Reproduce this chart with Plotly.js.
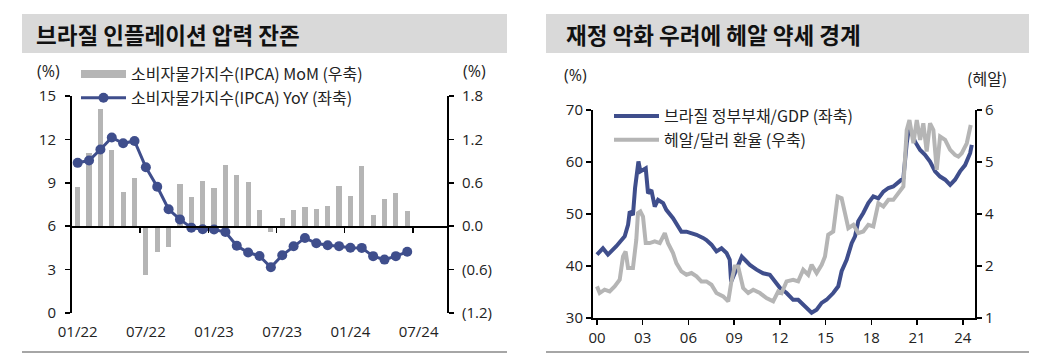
<!DOCTYPE html>
<html>
<head>
<meta charset="utf-8">
<script src="https://cdn.plot.ly/plotly-3.0.1.min.js"></script>
<style>html,body{margin:0;padding:0;background:#fff;}#chart{width:1047px;height:353px;}</style>
</head>
<body>
<div id="chart"></div>
<script>
// ---------- Left chart: Brazil IPCA ----------
const monthAxis = ['01/22','02/22','03/22','04/22','05/22','06/22','07/22','08/22','09/22','10/22','11/22','12/22',
  '01/23','02/23','03/23','04/23','05/23','06/23','07/23','08/23','09/23','10/23','11/23','12/23',
  '01/24','02/24','03/24','04/24','05/24','06/24','07/24','08/24','09/24'];
const ipcaMonths = monthAxis.slice(0, 30);
const ipcaYoY = [10.38,10.54,11.30,12.13,11.73,11.89,10.07,8.73,7.17,6.47,5.90,5.79,
  5.77,5.60,4.65,4.18,3.94,3.16,3.99,4.61,5.19,4.82,4.68,4.62,
  4.51,4.50,3.93,3.69,3.93,4.23];
const ipcaMoM = [0.54,1.01,1.62,1.06,0.47,0.67,-0.68,-0.36,-0.29,0.59,0.41,0.62,
  0.53,0.84,0.71,0.61,0.23,-0.08,0.12,0.23,0.26,0.24,0.28,0.56,
  0.42,0.83,0.16,0.38,0.46,0.21];
const leftTickLabels = ['01/22','07/22','01/23','07/23','01/24','07/24'];
const leftYVals = [0,3,6,9,12,15];
const rightYVals = [-1.2,-0.6,0,0.6,1.2,1.8];
const rightYText = ['(1.2)','(0.6)','0.0','0.6','1.2','1.8'];
const leftBoundaryTicks = [5.5,11.5,17.5,23.5,29.5];

// ---------- Right chart: debt / BRL ----------
const debtYear = [2000.00,2000.39,2000.72,2001.27,2001.82,2002.04,2002.15,2002.36,2002.50,2002.72,2002.85,2003.02,2003.20,2003.35,2003.57,2003.79,2004.01,2004.34,2004.55,2004.99,2005.32,2005.54,2005.87,2006.20,2006.53,2006.96,2007.18,2007.51,2007.84,2008.17,2008.50,2008.71,2008.80,2009.04,2009.50,2009.70,2010.03,2010.47,2010.90,2011.34,2011.67,2012.00,2012.44,2012.87,2013.20,2013.53,2013.86,2014.08,2014.41,2014.74,2015.06,2015.50,2015.83,2016.05,2016.38,2016.71,2016.93,2017.14,2017.47,2017.80,2018.13,2018.46,2018.79,2019.12,2019.44,2019.77,2020.10,2020.32,2020.45,2020.65,2020.87,2021.20,2021.52,2021.85,2022.18,2022.51,2022.84,2023.17,2023.49,2023.82,2024.15,2024.48,2024.59];
const debtGDP = [42.2,43.4,42.2,43.8,45.7,47.9,50.5,49.8,55.0,60.1,58.2,58.5,58.8,54.0,54.6,51.4,52.7,52.1,50.8,49.2,47.6,46.6,46.6,46.3,46.0,45.4,45.0,44.1,42.8,43.4,42.5,41.2,37.0,38.6,41.8,41.2,40.2,39.3,38.6,38.3,37.0,35.8,34.8,33.5,33.5,32.6,31.6,31.0,31.6,32.9,33.5,34.8,36.1,39.0,41.2,44.4,45.7,48.6,50.2,52.1,53.4,53.0,54.3,55.0,55.3,56.2,56.9,63.6,66.2,65.5,63.9,62.3,61.4,60.1,58.2,57.2,56.6,55.6,56.6,58.2,59.4,61.7,63.3];
const fxYear = [2000.00,2000.18,2000.50,2000.83,2001.16,2001.49,2001.71,2001.88,2002.04,2002.36,2002.58,2002.69,2002.85,2003.02,2003.20,2003.46,2003.79,2004.12,2004.45,2004.66,2004.99,2005.21,2005.54,2005.87,2006.20,2006.53,2006.85,2007.18,2007.51,2007.84,2008.28,2008.61,2008.82,2009.04,2009.26,2009.59,2009.92,2010.25,2010.69,2011.12,2011.56,2011.89,2012.11,2012.44,2012.87,2013.20,2013.53,2013.86,2014.08,2014.41,2014.74,2014.96,2015.17,2015.50,2015.79,2016.05,2016.27,2016.49,2016.82,2017.14,2017.47,2017.80,2018.13,2018.46,2018.79,2019.12,2019.44,2019.77,2020.10,2020.32,2020.50,2020.76,2020.98,2021.20,2021.41,2021.63,2021.85,2022.07,2022.29,2022.51,2022.84,2023.17,2023.49,2023.71,2023.93,2024.26,2024.52];
const brlUsd = [1.76,1.60,1.68,1.64,1.76,1.92,2.48,2.60,2.20,2.20,2.88,3.52,3.56,3.44,2.80,2.80,2.84,2.80,3.04,2.80,2.56,2.32,2.12,2.04,2.08,2.00,1.88,1.88,1.80,1.60,1.52,1.40,1.88,2.24,2.24,1.72,1.60,1.68,1.60,1.48,1.40,1.64,1.60,1.88,1.92,1.88,2.16,2.04,2.28,2.08,2.28,2.48,3.00,3.08,3.92,3.88,3.52,3.16,3.24,3.04,3.08,3.24,3.20,3.76,3.68,3.84,3.84,4.00,4.16,5.52,5.76,5.20,5.76,5.28,5.68,5.00,5.68,5.52,4.56,5.36,5.28,5.04,4.92,4.88,4.96,5.20,5.64];
const yearTickVals = [2000,2003,2006,2009,2012,2015,2018,2021,2024];
const yearTickText = ['00','03','06','09','12','15','18','21','24'];
const debtTickVals = [30,40,50,60,70];
const fxTickVals = [1,2.25,3.5,4.75,6];
const fxTickText = ['1','2','4','5','6'];

// ---------- styling ----------
const W = 1047, H = 353;
const px = v => v / W;
const py = v => 1 - v / H;
const FONT = '"Noto Sans CJK KR", "Noto Sans", sans-serif';
const TFONT = '"Open Sans", "Noto Sans CJK KR", sans-serif';
const NAVY = '#3f4e8c';
const GRAY = '#b5b5b5';
const tickFont = {family: TFONT, size: 15, color: '#222'};

const traces = [
  {type: 'bar', x: ipcaMonths, y: ipcaMoM, xaxis: 'x', yaxis: 'y', marker: {color: GRAY},
   width: 0.46, name: '소비자물가지수(IPCA) MoM (우축)', showlegend: false, hoverinfo: 'skip'},
  {type: 'scatter', mode: 'lines', x: [null], y: [null], xaxis: 'x', yaxis: 'y',
   line: {color: GRAY, width: 8}, name: '소비자물가지수(IPCA) MoM (우축)', legend: 'legend', legendgroup: 'a'},
  {type: 'scatter', mode: 'lines+markers', x: ipcaMonths, y: ipcaYoY, xaxis: 'x', yaxis: 'y2',
   line: {color: NAVY, width: 3}, marker: {color: NAVY, size: 10},
   name: '소비자물가지수(IPCA) YoY (좌축)', legend: 'legend', legendgroup: 'b'},
  {type: 'scatter', mode: 'lines', x: [], y: [], xaxis: 'x2', yaxis: 'y', showlegend: false, hoverinfo: 'skip'},
  {type: 'scatter', mode: 'lines', x: debtYear, y: debtGDP, xaxis: 'x3', yaxis: 'y3',
   line: {color: NAVY, width: 4}, name: '브라질 정부부채/GDP (좌축)', legend: 'legend2', legendgroup: 'c'},
  {type: 'scatter', mode: 'lines', x: fxYear, y: brlUsd, xaxis: 'x3', yaxis: 'y4',
   line: {color: GRAY, width: 4}, name: '헤알/달러 환율 (우축)', legend: 'legend2', legendgroup: 'd'}
];

const axLine = {showline: true, linecolor: '#000', linewidth: 2, ticks: 'outside', ticklen: 5, tickwidth: 1.5, tickcolor: '#000', showgrid: false, zeroline: false, tickfont: tickFont};

const layout = {
  width: W, height: H,
  margin: {l: 0, r: 0, t: 0, b: 0},
  paper_bgcolor: '#fff', plot_bgcolor: 'rgba(0,0,0,0)',
  font: {family: FONT, color: '#222'},
  showlegend: true,
  bargap: 0,
  xaxis: {domain: [px(72), px(447)], anchor: 'y', type: 'category', categoryarray: monthAxis, categoryorder: 'array',
    range: [-0.5, 32.5], tickvals: leftTickLabels, ticktext: leftTickLabels, showline: false, ticks: '', showgrid: false,
    zeroline: false, tickfont: tickFont, ticklabelstandoff: 8, fixedrange: true},
  xaxis2: {overlaying: 'x', anchor: 'free', position: py(227), type: 'linear', range: [-0.5, 32.5],
    tickvals: leftBoundaryTicks, showticklabels: false, showline: true, linecolor: '#000', linewidth: 2,
    ticks: 'outside', ticklen: 5, tickwidth: 1.5, tickcolor: '#000', showgrid: false, zeroline: false},
  yaxis: Object.assign({}, axLine, {domain: [py(313), py(96)], anchor: 'x', side: 'right', range: [-1.2, 1.8],
    tickvals: rightYVals, ticktext: rightYText, ticklabelstandoff: 5}),
  yaxis2: Object.assign({}, axLine, {overlaying: 'y', anchor: 'x', side: 'left', range: [0, 15], tickvals: leftYVals,
    ticklabelstandoff: 6}),
  xaxis3: Object.assign({}, axLine, {domain: [px(593), px(975)], anchor: 'y3', range: [1999.74, 2024.8],
    tickvals: yearTickVals, ticktext: yearTickText}),
  yaxis3: Object.assign({}, axLine, {domain: [py(318), py(110)], anchor: 'x3', side: 'left', range: [30, 70], tickvals: debtTickVals}),
  yaxis4: Object.assign({}, axLine, {overlaying: 'y3', anchor: 'x3', side: 'right', range: [1, 6],
    tickvals: fxTickVals, ticktext: fxTickText}),
  legend: {x: px(76), y: py(57), xanchor: 'left', yanchor: 'top', bgcolor: 'rgba(0,0,0,0)',
    font: {family: FONT, size: 16, color: '#222'}, itemwidth: 45, tracegroupgap: 0, traceorder: 'grouped'},
  legend2: {x: px(609), y: py(99), xanchor: 'left', yanchor: 'top', bgcolor: 'rgba(0,0,0,0)',
    font: {family: FONT, size: 16, color: '#222'}, itemwidth: 45, tracegroupgap: 0, traceorder: 'grouped'},
  shapes: [
    {type: 'rect', xref: 'paper', yref: 'paper', x0: px(22), x1: px(507), y0: py(53), y1: py(14), fillcolor: '#d9d9d9', line: {width: 0}, layer: 'below'},
    {type: 'rect', xref: 'paper', yref: 'paper', x0: px(546), x1: px(1029), y0: py(53), y1: py(14), fillcolor: '#d9d9d9', line: {width: 0}, layer: 'below'},
    {type: 'line', xref: 'paper', yref: 'paper', x0: px(22), x1: px(507), y0: py(352), y1: py(352), line: {color: '#a6a6a6', width: 2}},
    {type: 'line', xref: 'paper', yref: 'paper', x0: px(546), x1: px(1029), y0: py(352), y1: py(352), line: {color: '#a6a6a6', width: 2}}
  ],
  annotations: [
    {xref: 'paper', yref: 'paper', x: px(34), y: py(34), xanchor: 'left', yanchor: 'middle', showarrow: false,
     text: '<b>브라질 인플레이션 압력 잔존</b>', font: {family: FONT, size: 22.5, color: '#111'}},
    {xref: 'paper', yref: 'paper', x: px(564), y: py(34), xanchor: 'left', yanchor: 'middle', showarrow: false,
     text: '<b>재정 악화 우려에 헤알 약세 경계</b>', font: {family: FONT, size: 22.5, color: '#111'}},
    {xref: 'paper', yref: 'paper', x: px(35), y: py(71), xanchor: 'left', yanchor: 'middle', showarrow: false,
     text: '(%)', font: {family: TFONT, size: 16, color: '#222'}},
    {xref: 'paper', yref: 'paper', x: px(461), y: py(71), xanchor: 'left', yanchor: 'middle', showarrow: false,
     text: '(%)', font: {family: TFONT, size: 16, color: '#222'}},
    {xref: 'paper', yref: 'paper', x: px(562), y: py(75), xanchor: 'left', yanchor: 'middle', showarrow: false,
     text: '(%)', font: {family: TFONT, size: 16, color: '#222'}},
    {xref: 'paper', yref: 'paper', x: px(965), y: py(78), xanchor: 'left', yanchor: 'middle', showarrow: false,
     text: '(헤알)', font: {family: FONT, size: 16, color: '#222'}}
  ]
};

Plotly.newPlot('chart', traces, layout, {staticPlot: true, displayModeBar: false});
</script>
</body>
</html>
